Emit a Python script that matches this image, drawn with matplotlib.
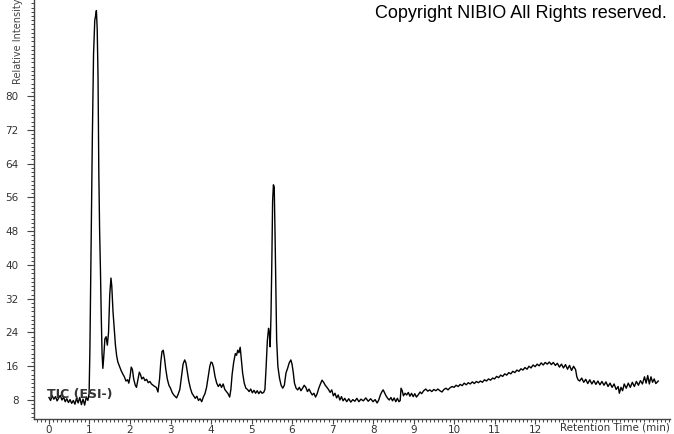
import matplotlib
matplotlib.use("Agg")
import matplotlib.pyplot as plt
from matplotlib.ticker import MultipleLocator, FixedLocator

# Retention time (min) and relative intensity
time_min = [
    0.00, 0.04, 0.08, 0.12, 0.16, 0.20, 0.24, 0.28, 0.32, 0.36, 0.40, 0.44, 0.48, 0.52, 0.56,
    0.60, 0.64, 0.68, 0.72, 0.76, 0.80, 0.84, 0.88, 0.92, 0.96,
    0.99, 1.01, 1.04, 1.07, 1.10, 1.13, 1.15, 1.17, 1.19, 1.21, 1.23, 1.25, 1.27, 1.29, 1.31,
    1.33, 1.35, 1.38, 1.41, 1.44, 1.47, 1.50, 1.53, 1.55, 1.58, 1.61, 1.64, 1.67, 1.70, 1.74,
    1.78, 1.82, 1.86, 1.90, 1.94, 1.97, 2.00, 2.03, 2.06, 2.09, 2.13, 2.16, 2.19, 2.23, 2.26,
    2.29, 2.33, 2.37, 2.41, 2.45, 2.49, 2.53, 2.57, 2.61, 2.65, 2.69, 2.73, 2.76, 2.79, 2.82,
    2.85, 2.88, 2.92, 2.96, 3.00, 3.04, 3.08, 3.12, 3.15, 3.19, 3.23, 3.27, 3.31, 3.35, 3.38,
    3.41, 3.45, 3.49, 3.53, 3.57, 3.61, 3.65, 3.69, 3.73, 3.77, 3.81, 3.85, 3.89, 3.93, 3.97,
    4.00, 4.03, 4.06, 4.10, 4.14, 4.18, 4.22, 4.26, 4.30, 4.34, 4.38, 4.42, 4.46, 4.49, 4.52,
    4.56, 4.60, 4.63, 4.66, 4.69, 4.72, 4.75, 4.78, 4.82, 4.86, 4.90, 4.94, 4.98, 5.02, 5.06,
    5.10, 5.14, 5.18, 5.22, 5.26, 5.30, 5.33, 5.36, 5.39, 5.42, 5.44, 5.46, 5.48, 5.50, 5.52,
    5.54, 5.56, 5.58, 5.60, 5.62, 5.65, 5.69, 5.73, 5.77, 5.81, 5.85, 5.89, 5.93, 5.97, 6.00,
    6.03, 6.06, 6.10, 6.14, 6.18, 6.22, 6.26, 6.30, 6.34, 6.38, 6.42, 6.46, 6.50, 6.54, 6.58,
    6.62, 6.66, 6.70, 6.74, 6.78, 6.82, 6.86, 6.90, 6.94, 6.98, 7.02, 7.06, 7.10, 7.14, 7.18,
    7.22, 7.26, 7.30, 7.35, 7.40, 7.45, 7.50, 7.55, 7.60, 7.65, 7.70, 7.76, 7.82, 7.88, 7.94,
    8.00, 8.05, 8.10, 8.14, 8.18, 8.22, 8.25, 8.28, 8.32, 8.36, 8.40, 8.44, 8.48, 8.52, 8.56,
    8.60, 8.64, 8.67, 8.69, 8.72, 8.75, 8.79, 8.83, 8.87, 8.91, 8.95, 8.99, 9.03, 9.07, 9.12,
    9.16, 9.20, 9.25, 9.30, 9.35, 9.40, 9.45, 9.50, 9.55, 9.60, 9.65, 9.70, 9.75, 9.80, 9.85,
    9.90, 9.95, 10.00, 10.05, 10.10, 10.15, 10.20, 10.25, 10.30, 10.35, 10.40, 10.45, 10.50, 10.55, 10.60,
    10.65, 10.70, 10.75, 10.80, 10.85, 10.90, 10.95, 11.00, 11.05, 11.10, 11.15, 11.20, 11.25, 11.30, 11.35,
    11.40, 11.45, 11.50, 11.55, 11.60, 11.65, 11.70, 11.75, 11.80, 11.85, 11.90, 11.95, 12.00, 12.05, 12.10,
    12.15, 12.20, 12.25, 12.30, 12.35, 12.40, 12.45, 12.50, 12.55, 12.60, 12.65, 12.70, 12.75, 12.80, 12.85,
    12.90, 12.95, 13.00, 13.03, 13.06, 13.10, 13.15, 13.20, 13.25, 13.30, 13.35, 13.40, 13.45, 13.50, 13.55,
    13.60, 13.65, 13.70, 13.75, 13.80, 13.85, 13.90, 13.95, 14.00, 14.05, 14.08, 14.12, 14.16, 14.20, 14.25,
    14.30, 14.35, 14.40, 14.45, 14.50, 14.55, 14.60, 14.65, 14.70, 14.74, 14.78, 14.82, 14.86, 14.90, 14.94,
    14.98, 15.04,
]
intensity = [
    8.6, 7.9, 9.0, 8.2, 8.8, 7.8, 8.5, 9.1, 8.0, 8.7, 7.6, 8.3, 7.4, 8.1, 7.2,
    7.9, 7.0, 8.4, 7.3, 8.6, 6.9, 8.2, 6.8, 8.7, 7.9,
    9.5, 20.0, 45.0, 70.0, 90.0, 98.0, 99.0, 100.3, 96.0, 85.0, 62.0, 48.0, 39.0, 28.0, 19.0,
    15.5, 18.0, 22.5, 23.0, 21.0, 24.0, 33.0, 36.9, 35.0, 29.0, 25.0, 21.0, 18.5, 17.0, 16.0,
    15.0, 14.2, 13.5, 12.5, 12.8, 12.0, 13.5, 15.8, 15.2, 13.0, 11.5, 11.0, 12.5, 14.6, 14.0,
    13.0, 13.4, 12.6, 12.9, 12.1, 12.4, 11.8, 11.5, 11.2, 11.0, 9.9, 13.0, 17.0, 19.5, 19.8,
    18.0, 15.5, 13.0, 11.5, 10.8, 9.8, 9.2, 8.8, 8.5, 9.4, 10.5, 13.5, 16.5, 17.5, 16.8,
    15.0, 12.5, 10.8, 9.6, 9.0, 8.4, 8.9, 7.9, 8.3, 7.6, 8.7, 9.5, 11.0, 13.5, 16.0,
    17.0, 16.8, 15.8, 13.5, 12.0, 11.2, 11.8, 11.0, 11.8, 10.5, 10.0, 9.5, 8.7, 10.5, 14.0,
    17.0, 19.0, 18.6, 19.8, 19.2, 20.5, 17.5, 14.4, 12.0, 10.8, 10.5, 10.0, 10.6, 9.7, 10.3,
    9.6, 10.2, 9.5, 10.1, 9.6, 9.8, 10.5, 15.8, 22.0, 25.0, 23.9, 20.6, 28.0, 40.0, 55.0,
    59.0, 58.5, 47.6, 34.0, 22.2, 16.0, 13.2, 11.5, 10.8, 11.5, 14.4, 15.5, 16.8, 17.5, 16.5,
    14.5, 12.0, 10.8, 10.4, 11.0, 10.2, 10.8, 11.5, 11.0, 10.0, 10.6, 9.8, 9.2, 9.6, 8.7,
    9.5, 10.8, 11.8, 12.7, 12.2, 11.5, 11.0, 10.5, 9.8, 10.4, 9.0, 9.6, 8.5, 9.2, 8.0,
    8.8, 7.8, 8.4, 7.6, 8.3, 7.5, 8.1, 7.7, 8.4, 7.6, 8.2, 7.8, 8.5, 7.7, 8.3,
    7.6, 8.1, 7.3, 8.0, 9.2, 10.0, 10.4, 9.8, 9.0, 8.4, 8.0, 8.6, 7.8, 8.5, 7.6,
    8.4, 7.6, 7.9, 10.8, 10.2, 9.0, 9.6, 9.2, 9.8, 8.9, 9.6, 8.8, 9.5, 8.7, 9.3,
    9.9, 9.5, 10.2, 10.6, 10.1, 10.4, 10.0, 10.5, 10.2, 10.6, 10.2, 9.9, 10.5, 10.8, 10.4,
    10.9, 11.2, 11.0, 11.5, 11.2, 11.7, 11.4, 12.0, 11.6, 12.1, 11.8, 12.3, 11.9, 12.4, 12.1,
    12.5, 12.2, 12.8, 12.5, 13.0, 12.7, 13.2, 13.0, 13.6, 13.3, 13.9, 13.6, 14.2, 13.9, 14.5,
    14.2, 14.8, 14.5, 15.1, 14.8, 15.4, 15.1, 15.7, 15.3, 16.0, 15.6, 16.3, 15.9, 16.5, 16.1,
    16.8, 16.3, 16.9, 16.5, 17.0, 16.4, 16.9, 16.2, 16.7, 15.8, 16.5, 15.6, 16.4, 15.3, 16.2,
    15.0, 16.0, 15.2, 13.5, 12.8, 12.5, 13.2, 12.2, 12.9, 11.9, 12.8, 11.8, 12.6, 11.7, 12.5,
    11.6, 12.4, 11.5, 12.3, 11.2, 12.0, 11.0, 11.8, 10.5, 11.2, 9.6, 11.0, 10.2, 11.8, 10.8,
    12.0, 11.0, 12.2, 11.2, 12.4, 11.5, 12.6, 11.8, 13.5, 12.0, 13.8, 11.8, 13.5, 12.2, 13.0,
    11.9, 12.5,
]

x_tick_labels = ["0", "1", "2", "3", "4", "5", "6", "7", "8", "9", "10", "11", "12"]
y_tick_labels = ["8", "16", "24", "32", "40", "48", "56", "64", "72", "80"]

fig = plt.figure(figsize=(6.74, 4.34), dpi=100)
ax = fig.add_axes([34 / 674, 15 / 434, 636 / 674, 419 / 434])
ax.plot(time_min, intensity, color="black", linewidth=1.0)

ax.set_xlim(-0.37, 15.33)
ax.set_ylim(3.5, 102.8)

for side in ("top", "right"):
    ax.spines[side].set_visible(False)
for side in ("left", "bottom"):
    ax.spines[side].set_color("#444444")
    ax.spines[side].set_linewidth(1.0)

xt = [float(v) for v in x_tick_labels]
ax.xaxis.set_major_locator(FixedLocator(xt))
ax.set_xticklabels(x_tick_labels)
ax.xaxis.set_minor_locator(MultipleLocator(0.1))
yt = [float(v) for v in y_tick_labels]
ax.yaxis.set_major_locator(FixedLocator(yt))
ax.set_yticklabels(y_tick_labels)
ax.yaxis.set_minor_locator(MultipleLocator(1))

ax.tick_params(axis="y", which="major", length=5, width=0.8, color="#444444",
               labelsize=7.5, labelcolor="#333333", direction="out", pad=6)
ax.tick_params(axis="x", which="major", length=3.5, width=0.8, color="#444444",
               labelsize=7.5, labelcolor="#333333", direction="out", pad=0.5)
ax.tick_params(axis="both", which="minor", length=2.5, width=0.7, color="#444444",
               direction="out")

fig.text(18 / 674, 1 - 84 / 434, "Relative Intensity", rotation=90, ha="center",
         va="bottom", fontsize=7, color="#444444")
fig.text(670 / 674, 1 - 428 / 434, "Retention Time (min)", ha="right", va="center",
         fontsize=7.5, color="#333333")
fig.text(667 / 674, 1 - 14 / 434, "Copyright NIBIO All Rights reserved.", ha="right",
         va="center", fontsize=13, family="Liberation Sans", color="black")
ax.text(-0.05, 9.2, "TIC (ESI-)", ha="left", va="center", fontsize=9,
        fontweight="bold", color="#333333")

fig.savefig("out.png", dpi=100)
